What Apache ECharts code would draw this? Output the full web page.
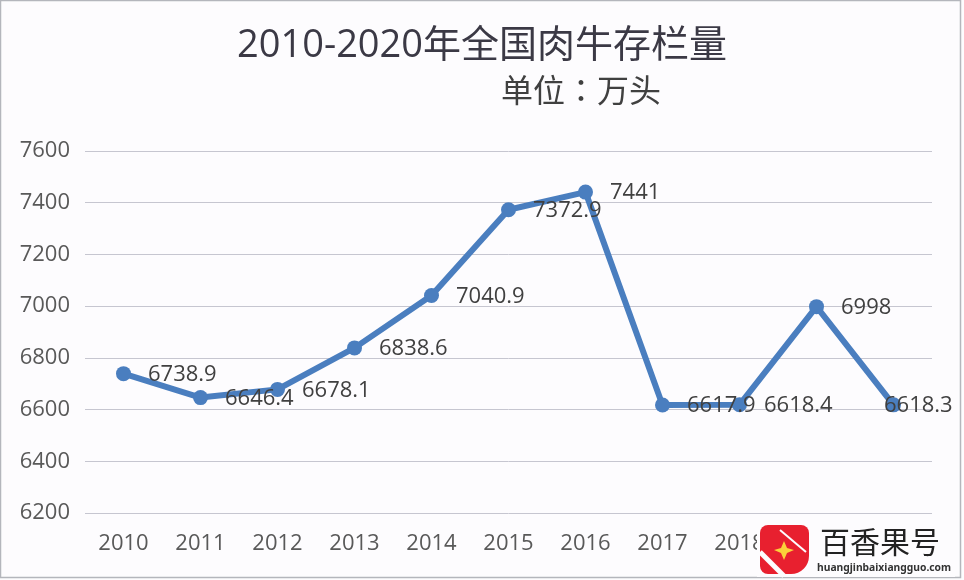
<!DOCTYPE html>
<html>
<head>
<meta charset="utf-8">
<style>html,body{margin:0;padding:0;background:#fff}#main{width:964px;height:580px}</style>
<script src="https://cdn.jsdelivr.net/npm/echarts@6/dist/echarts.min.js"></script>
</head>
<body>
<div id="main"></div>
<script>
var years = ['2010','2011','2012','2013','2014','2015','2016','2017','2018','2019','2020'];
var stock = [6738.9, 6646.4, 6678.1, 6838.6, 7040.9, 7372.9, 7441, 6617.9, 6618.4, 6998, 6618.3];
var yTicks = {min: 6200, max: 7600, interval: 200};

var fontLatin = '"Open Sans","Noto Sans CJK SC",sans-serif';
var myChart = echarts.init(document.getElementById('main'));

// the last label sits on top of its point in the original
var points = stock.map(function (v, i) {
    if (i === stock.length - 1) {
        return {value: v, label: {position: 'right', distance: -17}};
    }
    return {value: v};
});

var option = {
    animation: false,
    backgroundColor: '#fdfcfe',
    title: [
        {
            text: '2010-2020年全国肉牛存栏量',
            left: 232, top: 22,
            textStyle: {fontFamily: fontLatin, fontSize: 38, fontWeight: 'normal', color: '#3b3945'}
        },
        {
            text: '单位：万头',
            left: 496, top: 72,
            textStyle: {fontFamily: '"Open Sans","Noto Sans CJK TC",sans-serif', fontSize: 32, fontWeight: 'normal', color: '#404040'}
        }
    ],
    grid: {left: 85, right: 32, top: 151, bottom: 67},
    xAxis: {
        type: 'category',
        data: years,
        axisLine: {show: false},
        axisTick: {show: false},
        axisLabel: {margin: 20, fontFamily: fontLatin, fontSize: 22, color: '#595959'}
    },
    yAxis: {
        type: 'value',
        min: yTicks.min, max: yTicks.max, interval: yTicks.interval,
        axisLine: {show: false},
        axisTick: {show: false},
        axisLabel: {
            margin: 15,
            fontFamily: fontLatin,
            fontSize: 22,
            color: '#595959',
            formatter: function (v) { return String(v); }
        },
        splitLine: {lineStyle: {color: '#c6c6d0', width: 1}}
    },
    series: [{
        type: 'line',
        data: points,
        symbol: 'circle',
        symbolSize: 15,
        lineStyle: {color: '#4a7ebf', width: 6},
        itemStyle: {color: '#4a7ebf'},
        label: {
            show: true,
            position: 'right',
            distance: 17,
            offset: [0, 1],
            fontFamily: fontLatin,
            fontSize: 22,
            color: '#404040'
        }
    }],
    graphic: [
        {type: 'rect', z: 100, shape: {x: 0.5, y: 0.5, width: 960, height: 577},
            style: {fill: 'none', stroke: '#b4b6bc', lineWidth: 1.5}},
        {type: 'rect', z: 101, shape: {x: 757, y: 523, width: 198, height: 54},
            style: {fill: '#fdfcfe'}},
        {type: 'rect', z: 102, shape: {x: 760, y: 525, width: 49, height: 49, r: [8, 8, 18, 8]},
            style: {fill: '#e8202f'}},
        {type: 'line', z: 103, shape: {x1: 760, y1: 552, x2: 784, y2: 576},
            style: {stroke: '#fdfcfe', lineWidth: 5}},
        {type: 'line', z: 103, shape: {x1: 780, y1: 530, x2: 806, y2: 552},
            style: {stroke: '#fdfcfe', lineWidth: 2}},
        {type: 'polygon', z: 103,
            shape: {points: [[784,541],[787,548],[794,550],[787,553],[784,560],[781,553],[774,550],[781,548]]},
            style: {fill: '#fbd13a'}},
        {type: 'text', z: 103, left: 820, top: 527,
            style: {text: '百香果号', fontFamily: '"Noto Sans CJK SC"', fontSize: 30, fill: '#222222'}},
        {type: 'text', z: 103, left: 817, top: 563,
            style: {text: 'huangjinbaixiangguo.com', fontFamily: '"Noto Sans"', fontSize: 10.3, fontWeight: 'bold', fill: '#333333'}}
    ]
};

myChart.setOption(option);
</script>
</body>
</html>
